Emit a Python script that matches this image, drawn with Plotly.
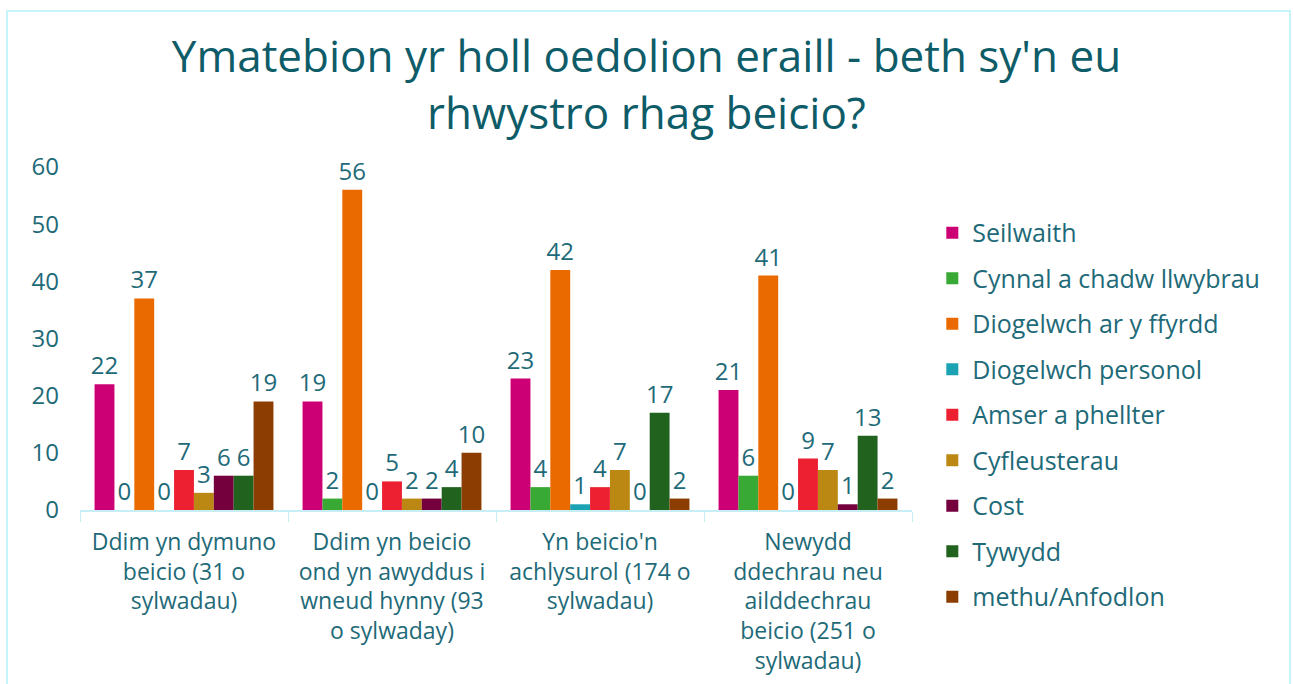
import plotly.graph_objects as go

categories = [
    "Ddim yn dymuno<br>beicio (31 o<br>sylwadau)",
    "Ddim yn beicio<br>ond yn awyddus i<br>wneud hynny (93<br>o sylwaday)",
    "Yn beicio'n<br>achlysurol (174 o<br>sylwadau)",
    "Newydd<br>ddechrau neu<br>ailddechrau<br>beicio (251 o<br>sylwadau)",
]
series_names = [
    "Seilwaith",
    "Cynnal a chadw llwybrau",
    "Diogelwch ar y ffyrdd",
    "Diogelwch personol",
    "Amser a phellter",
    "Cyfleusterau",
    "Cost",
    "Tywydd",
    "methu/Anfodlon",
]
seilwaith = [22, 19, 23, 21]
cynnal = [0, 2, 4, 6]
diogelwch_ffyrdd = [37, 56, 42, 41]
diogelwch_personol = [0, 0, 1, 0]
amser = [7, 5, 4, 9]
cyfleusterau = [3, 2, 7, 7]
cost = [6, 2, 0, 1]
tywydd = [6, 4, 17, 13]
methu = [19, 10, 2, 2]
values = [seilwaith, cynnal, diogelwch_ffyrdd, diogelwch_personol, amser,
          cyfleusterau, cost, tywydd, methu]
colors = ["#CC0074", "#39A935", "#EA6A00", "#1CA3B3", "#EC2030",
          "#BC8814", "#74003E", "#22621F", "#8C3D02"]

TEXT = "#1E6A78"
FONT = "Open Sans"

fig = go.Figure()
for i, (name, vals, col) in enumerate(zip(series_names, values, colors)):
    fig.add_trace(go.Bar(
        x=categories, y=vals, name=name,
        marker=dict(color=col, line=dict(width=0)),
        text=[str(v) for v in vals], textposition="outside",
        textfont=dict(size=24, color=TEXT, family=FONT),
        cliponaxis=False, legendgroup=f"g{i}",
    ))

fig.update_layout(
    width=1293, height=684,
    paper_bgcolor="white", plot_bgcolor="white",
    margin=dict(l=80, r=381, t=167, b=174),
    barmode="group", bargap=0.14, bargroupgap=0,
    font=dict(family=FONT, color=TEXT, size=24),
    title=dict(
        text="Ymatebion yr holl oedolion eraill - beth sy'n eu<br>rhwystro rhag beicio?",
        x=0.5, xanchor="center", xref="container", y=0.895, yanchor="top",
        font=dict(size=44, color="#0E5C68", family=FONT),
    ),
    legend=dict(
        x=1.0244, xanchor="left", y=0.875, yanchor="top",
        font=dict(size=25, color=TEXT, family=FONT),
        tracegroupgap=10, bgcolor="rgba(0,0,0,0)", maxheight=640,
    ),
    showlegend=True,
    uniformtext=dict(mode="show", minsize=24),
)
fig.update_yaxes(
    range=[0, 60], dtick=10, showgrid=False, zeroline=False,
    tickfont=dict(size=24, color=TEXT, family=FONT), ticks="",
    ticklabelstandoff=20, automargin=False,
)
fig.update_xaxes(
    showline=True, linecolor="#C8EEF5", linewidth=2,
    ticks="outside", tickson="boundaries", ticklen=10, tickcolor="#C8EEF5",
    tickfont=dict(size=23, color=TEXT, family=FONT), automargin=False,
    ticklabelstandoff=10,
)
fig.add_shape(type="rect", xref="paper", yref="paper",
              x0=-0.0877, x1=1.4543, y0=-0.53, y1=1.4548,
              line=dict(color="#C6F4FB", width=2))

fig.write_html("out.html", post_script="document.body.style.margin='0';",
               config={"displayModeBar": False})
